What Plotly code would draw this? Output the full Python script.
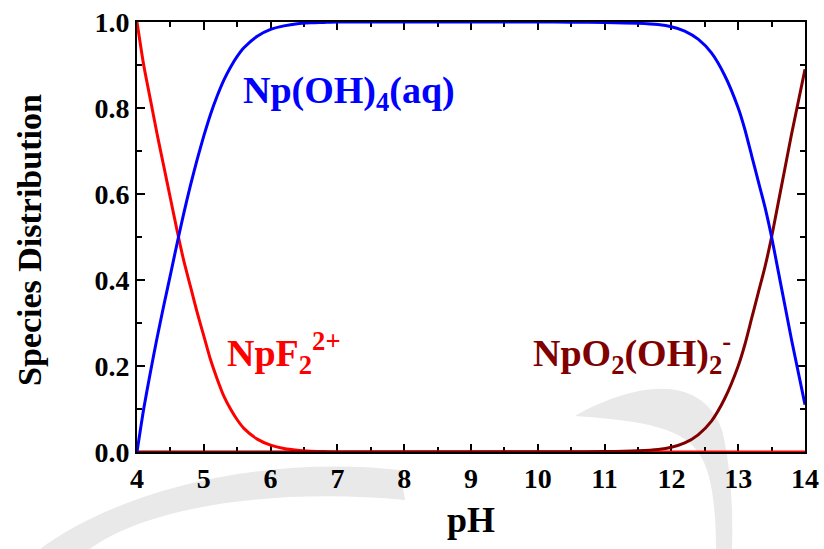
import plotly.graph_objects as go

# NpF2(2+) fraction
ph_npf2 = [4.0, 4.1, 4.2, 4.3, 4.4, 4.5, 4.6, 4.7, 4.8, 4.9, 5.0, 5.1, 5.2, 5.3,
           5.4, 5.5, 5.6, 5.8, 6.0, 6.2, 6.4, 6.6, 6.8, 7.0, 14.0]
npf2 = [1.0, 0.90, 0.82, 0.74, 0.665, 0.59, 0.515, 0.445, 0.385, 0.325, 0.27, 0.215,
        0.17, 0.13, 0.10, 0.075, 0.055, 0.03, 0.016, 0.008, 0.004, 0.002, 0.001, 0.0, 0.0]

# Np(OH)4(aq) fraction
ph_npoh4 = [4.0, 4.1, 4.2, 4.3, 4.4, 4.5, 4.6, 4.7, 4.8, 4.9, 5.0, 5.1, 5.2, 5.3,
            5.4, 5.5, 5.6, 5.8, 6.0, 6.2, 6.4, 6.6, 6.8, 7.0, 8.0, 9.0, 10.0, 10.5,
            11.0, 11.5, 11.8, 12.0, 12.2, 12.4, 12.6, 12.8, 13.0, 13.1, 13.2, 13.3,
            13.4, 13.5, 13.6, 13.7, 13.8, 13.9, 14.0]
npoh4 = [0.0, 0.10, 0.185, 0.265, 0.34, 0.412, 0.485, 0.555, 0.62, 0.68, 0.735, 0.785,
         0.828, 0.865, 0.895, 0.92, 0.94, 0.967, 0.983, 0.991, 0.996, 0.998, 0.999, 1.0,
         1.0, 1.0, 1.0, 0.9995, 0.999, 0.997, 0.994, 0.989, 0.979, 0.96, 0.928, 0.875,
         0.80, 0.75, 0.69, 0.63, 0.57, 0.50, 0.42, 0.34, 0.26, 0.185, 0.11]

# NpO2(OH)2(-) fraction
ph_npo2 = [4.0, 10.5, 11.0, 11.5, 11.8, 12.0, 12.2, 12.4, 12.6, 12.8, 13.0, 13.1,
           13.2, 13.3, 13.4, 13.5, 13.6, 13.7, 13.8, 13.9, 14.0]
npo2 = [0.0, 0.0005, 0.001, 0.003, 0.006, 0.011, 0.021, 0.04, 0.072, 0.125, 0.2,
        0.25, 0.31, 0.37, 0.43, 0.5, 0.58, 0.66, 0.74, 0.815, 0.89]

x_ticks = [4, 5, 6, 7, 8, 9, 10, 11, 12, 13, 14]
y_ticks = [0.0, 0.2, 0.4, 0.6, 0.8, 1.0]

W, H = 824, 549
ML, MR, MT, MB = 137, 19, 22, 97
PW, PH = W - ML - MR, H - MT - MB

FONT = "Liberation Serif"


def px(x, y):
    """pixel position -> paper coordinates string"""
    return f"{(x - ML) / PW:.5f},{(H - MB - y) / PH:.5f}"


fig = go.Figure()

fig.add_trace(go.Scatter(x=ph_npf2, y=npf2, mode="lines", name="NpF2 2+",
                         line=dict(color="#ff0000", width=3, shape="spline", smoothing=0.6)))
fig.add_trace(go.Scatter(x=ph_npo2, y=npo2, mode="lines", name="NpO2(OH)2-",
                         line=dict(color="#800000", width=3, shape="spline", smoothing=0.6)))
fig.add_trace(go.Scatter(x=ph_npoh4, y=npoh4, mode="lines", name="Np(OH)4(aq)",
                         line=dict(color="#0000ff", width=3, shape="spline", smoothing=0.6)))

# faint background swooshes
wm = "#e9e9e9"
right_path = ("M " + px(575, 416) + " C " + px(630, 385) + " " + px(700, 370) + " "
              + px(722, 430) + " C " + px(732, 470) + " " + px(733, 520) + " "
              + px(732, 549) + " L " + px(716, 549) + " C " + px(716, 510) + " "
              + px(712, 470) + " " + px(698, 452) + " C " + px(680, 425) + " "
              + px(630, 420) + " " + px(575, 416) + " Z")
left_path = ("M " + px(40, 549) + " C " + px(120, 490) + " " + px(260, 455) + " "
             + px(400, 470) + " L " + px(405, 500) + " C " + px(280, 488) + " "
             + px(150, 505) + " " + px(90, 549) + " Z")
for p in (right_path, left_path):
    fig.add_shape(type="path", path=p, xref="paper", yref="paper",
                  fillcolor=wm, line=dict(width=0), layer="below")

ann_font = dict(family=FONT, size=38, weight="bold")
fig.add_annotation(x=7.18, y=0.835, xref="x", yref="y", showarrow=False,
                   text="Np(OH)<sub>4</sub>(aq)", font=dict(ann_font, color="#0000ff"))
fig.add_annotation(x=5.32, y=0.23, xref="x", yref="y", showarrow=False, xanchor="left",
                   text="NpF<sub>2</sub><sup>2+</sup>", font=dict(ann_font, color="#ff0000"))
fig.add_annotation(x=9.9, y=0.23, xref="x", yref="y", showarrow=False, xanchor="left",
                   text="NpO<sub>2</sub>(OH)<sub>2</sub><sup>-</sup>",
                   font=dict(ann_font, color="#800000"))

# axis titles
fig.add_annotation(x=0.5, y=(H - MB - 520) / PH, xref="paper", yref="paper",
                   xanchor="center", yanchor="middle", showarrow=False, text="pH",
                   font=dict(family=FONT, size=36, weight="bold", color="black"))
fig.add_annotation(x=(30 - ML) / PW, y=(H - MB - 240) / PH, xref="paper", yref="paper",
                   xanchor="center", yanchor="middle", showarrow=False,
                   text="Species Distribution", textangle=-90,
                   font=dict(family=FONT, size=34, weight="bold", color="black"))

axis_common = dict(
    showline=True, linecolor="black", linewidth=2, mirror="allticks",
    ticks="inside", ticklen=8, tickwidth=2, tickcolor="black",
    showgrid=False, zeroline=False, layer="below traces", automargin=False,
    tickfont=dict(family=FONT, size=28, weight="bold", color="black"),
)

fig.update_xaxes(range=[4, 14], tickvals=x_ticks,
                 minor=dict(dtick=0.5, ticks="inside", ticklen=5, tickwidth=1.5,
                            tickcolor="black", showgrid=False),
                 **axis_common)
fig.update_yaxes(range=[0, 1], tickvals=y_ticks, tickformat=".1f",
                 minor=dict(dtick=0.1, ticks="inside", ticklen=5, tickwidth=1.5,
                            tickcolor="black", showgrid=False),
                 **axis_common)

fig.update_layout(
    width=W, height=H,
    margin=dict(l=ML, r=MR, t=MT, b=MB, pad=0, autoexpand=False),
    paper_bgcolor="white", plot_bgcolor="rgba(0,0,0,0)",
    showlegend=False,
)

fig.write_html("out.html")
